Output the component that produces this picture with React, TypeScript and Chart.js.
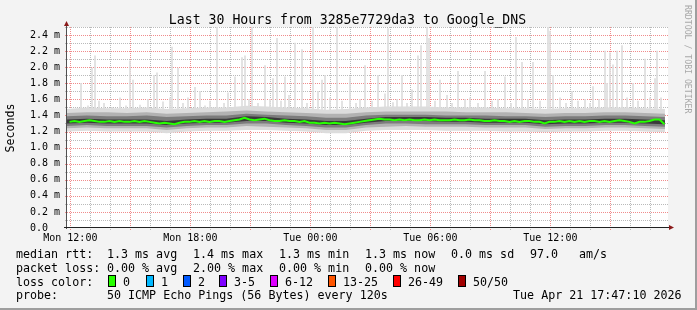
import React, { useEffect, useRef } from "react";
import { Chart, registerables } from "chart.js";

Chart.register(...registerables);

const MONO = '"DejaVu Sans Mono", monospace';

// ---- time axis: hours since Mon 12:00 (graph starts 11:50) ----
const X_MIN = -10 / 60;
const X_MAX = 29 + 50 / 60;
const DATA_END = 29.73;
const Y_MAX = 2.5;

const xTickHours = [0, 6, 12, 18, 24];
const xTickLabels = ["Mon 12:00", "Mon 18:00", "Tue 00:00", "Tue 06:00", "Tue 12:00"];
const yTickValues = [0, 0.2, 0.4, 0.6, 0.8, 1.0, 1.2, 1.4, 1.6, 1.8, 2.0, 2.2, 2.4];
const yTickLabels = ["0.0", "0.2 m", "0.4 m", "0.6 m", "0.8 m", "1.0 m", "1.2 m", "1.4 m", "1.6 m", "1.8 m", "2.0 m", "2.2 m", "2.4 m"];

// ---- median rtt (ms), one value per 15 minutes ----
const medianRtt = [
  1.32, 1.33, 1.32, 1.33, 1.34, 1.33, 1.32, 1.32, 1.33, 1.32,
  1.33, 1.32, 1.32, 1.33, 1.32, 1.33, 1.32, 1.31, 1.30, 1.31,
  1.30, 1.29, 1.31, 1.32, 1.32, 1.33, 1.32, 1.33, 1.32, 1.33,
  1.33, 1.32, 1.33, 1.34, 1.35, 1.37, 1.35, 1.34, 1.35, 1.36,
  1.34, 1.33, 1.33, 1.34, 1.33, 1.33, 1.32, 1.33, 1.31, 1.31,
  1.30, 1.31, 1.30, 1.31, 1.30, 1.29, 1.30, 1.31, 1.32, 1.33,
  1.34, 1.35, 1.36, 1.35, 1.35, 1.34, 1.35, 1.34, 1.35, 1.34,
  1.34, 1.35, 1.34, 1.35, 1.34, 1.34, 1.34, 1.35, 1.34, 1.34,
  1.35, 1.34, 1.34, 1.33, 1.33, 1.34, 1.33, 1.33, 1.32, 1.33,
  1.32, 1.33, 1.33, 1.32, 1.32, 1.30, 1.32, 1.32, 1.33, 1.32,
  1.33, 1.32, 1.33, 1.32, 1.33, 1.33, 1.32, 1.33, 1.32, 1.33,
  1.34, 1.33, 1.32, 1.30, 1.32, 1.32, 1.33, 1.35, 1.35, 1.29,
];

// ---- smoke bands (ms), 31 points across the data span ----
const smokeOuterLow = [1.20, 1.21, 1.20, 1.20, 1.20, 1.18, 1.20, 1.21, 1.21, 1.22, 1.22, 1.21, 1.20, 1.18, 1.18, 1.21, 1.22, 1.22, 1.22, 1.21, 1.21, 1.21, 1.20, 1.20, 1.19, 1.20, 1.20, 1.21, 1.21, 1.20, 1.19];
const smokeOuterHigh = [1.48, 1.50, 1.49, 1.49, 1.50, 1.48, 1.49, 1.50, 1.50, 1.52, 1.51, 1.50, 1.49, 1.47, 1.48, 1.50, 1.51, 1.51, 1.51, 1.50, 1.50, 1.50, 1.49, 1.49, 1.48, 1.49, 1.49, 1.50, 1.50, 1.49, 1.48];
const smokeMidLow = [1.24, 1.25, 1.24, 1.24, 1.24, 1.22, 1.24, 1.25, 1.25, 1.27, 1.26, 1.25, 1.24, 1.22, 1.22, 1.25, 1.26, 1.27, 1.26, 1.26, 1.26, 1.25, 1.25, 1.25, 1.23, 1.24, 1.24, 1.25, 1.25, 1.24, 1.23];
const smokeMidHigh = [1.43, 1.44, 1.44, 1.43, 1.44, 1.42, 1.43, 1.44, 1.45, 1.46, 1.45, 1.44, 1.43, 1.42, 1.42, 1.44, 1.45, 1.45, 1.45, 1.45, 1.44, 1.44, 1.44, 1.43, 1.42, 1.43, 1.43, 1.44, 1.44, 1.43, 1.42];
const smokeInnerLow = [1.27, 1.28, 1.27, 1.27, 1.27, 1.25, 1.27, 1.28, 1.28, 1.30, 1.30, 1.28, 1.27, 1.25, 1.25, 1.28, 1.30, 1.30, 1.29, 1.29, 1.29, 1.28, 1.28, 1.28, 1.26, 1.27, 1.27, 1.28, 1.28, 1.27, 1.26];
const smokeInnerHigh = [1.39, 1.40, 1.39, 1.39, 1.40, 1.38, 1.39, 1.40, 1.40, 1.42, 1.41, 1.40, 1.39, 1.37, 1.37, 1.40, 1.41, 1.41, 1.41, 1.40, 1.40, 1.40, 1.39, 1.39, 1.38, 1.39, 1.39, 1.40, 1.40, 1.39, 1.38];
const smokeCoreLow = [1.30, 1.31, 1.30, 1.30, 1.30, 1.28, 1.30, 1.31, 1.31, 1.33, 1.33, 1.31, 1.30, 1.28, 1.28, 1.31, 1.33, 1.33, 1.33, 1.32, 1.32, 1.31, 1.31, 1.31, 1.29, 1.30, 1.30, 1.31, 1.31, 1.30, 1.29];
const smokeCoreHigh = [1.35, 1.36, 1.35, 1.35, 1.35, 1.33, 1.35, 1.36, 1.36, 1.39, 1.38, 1.36, 1.35, 1.33, 1.33, 1.36, 1.38, 1.38, 1.38, 1.37, 1.37, 1.36, 1.36, 1.36, 1.34, 1.35, 1.35, 1.36, 1.36, 1.35, 1.34];

// ---- max-ping spikes: minutes after 11:50, and max rtt (ms) ----
const spikeMinutes = [
  42, 63, 75, 84, 96, 111, 135, 159, 177, 189, 198, 219, 243, 261, 270, 288, 309, 315, 333, 348,
  363, 384, 399, 414, 429, 450, 471, 483, 504, 525, 534, 546, 555, 573, 594, 609, 618, 630, 642, 654,
  666, 684, 705, 720, 738, 753, 765, 774, 789, 810, 825, 849, 867, 879, 894, 915, 933, 954, 963, 978,
  990, 1005, 1020, 1035, 1053, 1062, 1080, 1086, 1104, 1119, 1140, 1155, 1173, 1194, 1209, 1233, 1254, 1275, 1293, 1314,
  1332, 1347, 1365, 1383, 1398, 1419, 1443, 1449, 1458, 1479, 1497, 1515, 1533, 1554, 1569, 1578, 1596, 1614, 1620, 1629,
  1638, 1650, 1665, 1680, 1698, 1713, 1734, 1749, 1764, 1770, 1782,
];
const spikeMax = [
  1.80, 1.52, 1.99, 2.14, 1.58, 1.55, 1.50, 1.62, 1.52, 2.08, 1.84, 1.53, 1.60, 1.90, 1.93, 1.57, 1.62, 2.25, 1.99, 1.55,
  1.62, 1.75, 1.70, 1.52, 1.58, 2.50, 1.55, 1.68, 1.88, 2.12, 2.14, 1.60, 2.50, 1.55, 2.02, 1.60, 1.86, 2.36, 1.58, 1.88,
  1.65, 2.30, 2.22, 1.55, 2.50, 1.70, 1.84, 1.90, 1.62, 2.50, 1.58, 1.88, 1.55, 1.60, 2.02, 1.58, 1.90, 1.67, 2.48, 1.56,
  1.60, 1.90, 1.55, 1.72, 2.14, 2.27, 2.50, 2.36, 1.58, 1.84, 1.65, 1.55, 1.95, 1.60, 1.62, 1.55, 1.95, 1.58, 1.60, 1.88,
  1.55, 2.37, 2.06, 1.60, 2.06, 1.58, 2.50, 2.45, 1.90, 1.62, 1.55, 1.70, 1.58, 1.60, 1.55, 1.76, 1.60, 2.20, 1.80, 2.18,
  2.03, 2.20, 2.27, 1.62, 1.80, 1.58, 2.10, 1.62, 1.86, 2.20, 1.62,
];
const SPIKE_BASE = 1.4;

// ---- legend ----
const TITLE = "Last 30 Hours from 3285e7729da3 to Google_DNS";
const rttStats = ["1.3 ms avg", "1.4 ms max", "1.3 ms min", "1.3 ms now", "0.0 ms sd", "97.0", "am/s"];
const lossStats = ["0.00 % avg", "2.00 % max", "0.00 % min", "0.00 % now"];
const lossLabels = ["0", "1", "2", "3-5", "6-12", "13-25", "26-49", "50/50"];
const lossColors = ["#26ff00", "#00b8ff", "#0059ff", "#7e00ff", "#dd00ff", "#ff5500", "#ff0000", "#a10000"];
const probeText = "50 ICMP Echo Pings (56 Bytes) every 120s";
const dateText = "Tue Apr 21 17:47:10 2026";

const statX = [107, 193, 279, 365, 451, 530, 579];
const boxX = [108, 146, 183, 219, 270, 328, 393, 458];

function smokeSeries(arr: number[]) {
  const step = (DATA_END - X_MIN) / (arr.length - 1);
  return arr.map((y, k) => ({ x: X_MIN + k * step, y }));
}

function dottedH(ctx: CanvasRenderingContext2D, x0: number, x1: number, y: number) {
  for (let x = x0; x <= x1; x += 2) ctx.fillRect(x, y, 1, 1);
}
function dottedV(ctx: CanvasRenderingContext2D, x: number, y0: number, y1: number) {
  for (let y = y0; y <= y1; y += 2) ctx.fillRect(x, y, 1, 1);
}

const rrdPlugin = {
  id: "rrdDecor",
  beforeDraw(chart: any) {
    const { ctx, chartArea: a, width, height } = chart;
    const xs = chart.scales.x;
    const ys = chart.scales.y;
    ctx.save();
    ctx.fillStyle = "#f3f3f3";
    ctx.fillRect(0, 0, width, height);
    ctx.fillStyle = "#9e9e9e";
    ctx.fillRect(width - 2, 0, 2, height);
    ctx.fillRect(0, height - 2, width, 2);
    ctx.fillStyle = "#ffffff";
    ctx.fillRect(a.left, a.top, a.right - a.left + 1, a.bottom - a.top);
    // grid (under the data, as rrdtool does)
    const L = Math.round(a.left);
    const R = Math.round(a.right);
    const T = Math.round(a.top);
    const B = Math.round(a.bottom);
    for (let i = 1; i <= 25; i++) {
      const py = Math.round(ys.getPixelForValue(i / 10));
      ctx.fillStyle = i % 2 === 0 ? "#f08c8c" : "#bababa";
      dottedH(ctx, L - 2, R, py);
    }
    for (let h = 0; h <= 29; h++) {
      const px = Math.round(xs.getPixelForValue(h));
      ctx.fillStyle = h % 3 === 0 ? "#f08c8c" : "#bababa";
      dottedV(ctx, px, T, B + 2);
    }
    ctx.restore();
  },
  afterDatasetsDraw(chart: any) {
    const { ctx, chartArea: a } = chart;
    ctx.save();
    // axes
    ctx.fillStyle = "#505050";
    ctx.fillRect(a.left - 1, a.top - 1, 1, a.bottom - a.top + 2);
    ctx.fillStyle = "#202020";
    ctx.fillRect(a.left - 3, a.bottom - 1, a.right - a.left + 5, 1);
    // arrows
    ctx.fillStyle = "#8b1a1a";
    ctx.beginPath();
    ctx.moveTo(a.left - 0.5, a.top - 6);
    ctx.lineTo(a.left - 3, a.top - 1);
    ctx.lineTo(a.left + 2, a.top - 1);
    ctx.closePath();
    ctx.fill();
    ctx.beginPath();
    ctx.moveTo(a.right + 7, a.bottom - 0.5);
    ctx.lineTo(a.right + 2, a.bottom - 3);
    ctx.lineTo(a.right + 2, a.bottom + 2);
    ctx.closePath();
    ctx.fill();
    ctx.restore();
  },
  afterDraw(chart: any) {
    const { ctx } = chart;
    ctx.save();
    ctx.fillStyle = "#000";
    ctx.textBaseline = "alphabetic";
    // title
    ctx.font = `13.2px ${MONO}`;
    ctx.textAlign = "center";
    ctx.fillText(TITLE, 347.5, 24);
    // y label
    ctx.save();
    ctx.font = `11.6px ${MONO}`;
    ctx.translate(11, 128);
    ctx.rotate(-Math.PI / 2);
    ctx.textAlign = "center";
    ctx.textBaseline = "middle";
    ctx.fillText("Seconds", 0, 0);
    ctx.restore();
    // watermark
    ctx.save();
    ctx.font = `8.2px ${MONO}`;
    ctx.fillStyle = "#a8a8a8";
    ctx.translate(685, 5);
    ctx.rotate(Math.PI / 2);
    ctx.textAlign = "left";
    ctx.textBaseline = "alphabetic";
    ctx.fillText("RRDTOOL / TOBI OETIKER", 0, 0);
    ctx.restore();
    // legend
    ctx.font = `11.66px ${MONO}`;
    ctx.textAlign = "left";
    const rows = [258.3, 271.9, 285.5, 299.1];
    ctx.fillText("median rtt:", 16, rows[0]);
    rttStats.forEach((s, i) => ctx.fillText(s, statX[i], rows[0]));
    ctx.fillText("packet loss:", 16, rows[1]);
    lossStats.forEach((s, i) => ctx.fillText(s, statX[i], rows[1]));
    ctx.fillText("loss color:", 16, rows[2]);
    lossLabels.forEach((s, i) => {
      const bx = boxX[i];
      ctx.fillStyle = lossColors[i];
      ctx.fillRect(bx + 1, 276, 6, 10);
      ctx.strokeStyle = "#000";
      ctx.lineWidth = 1;
      ctx.strokeRect(bx + 0.5, 275.5, 7, 11);
      ctx.fillStyle = "#000";
      ctx.fillText(s, bx + 15, rows[2]);
    });
    ctx.fillText("probe:", 16, rows[3]);
    ctx.fillText(probeText, 107, rows[3]);
    ctx.textAlign = "right";
    ctx.fillText(dateText, 681.5, rows[3]);
    ctx.restore();
  },
};

export default function App() {
  const ref = useRef<HTMLCanvasElement | null>(null);

  useEffect(() => {
    document.body.style.margin = "0";
    const canvas = ref.current;
    if (!canvas) return;

    const lineBase = {
      type: "line" as const,
      borderColor: "rgba(0,0,0,0)",
      borderWidth: 1,
      pointRadius: 0,
      tension: 0,
    };

    const chart = new Chart(canvas, {
      type: "bar",
      data: {
        datasets: [
          {
            type: "bar",
            data: spikeMinutes.map((m, i) => ({ x: X_MIN + m / 60, y: [SPIKE_BASE, spikeMax[i]] })) as any,
            backgroundColor: "#dedede",
            barThickness: 1,
            order: 10,
          },
          { ...lineBase, data: smokeSeries(smokeOuterHigh), fill: "+1", backgroundColor: "#dcdcdc", order: 9 },
          { ...lineBase, data: smokeSeries(smokeOuterLow), fill: false, order: 9 },
          { ...lineBase, data: smokeSeries(smokeMidHigh), fill: "+1", backgroundColor: "#b2b2b2", order: 8 },
          { ...lineBase, data: smokeSeries(smokeMidLow), fill: false, order: 8 },
          { ...lineBase, data: smokeSeries(smokeInnerHigh), fill: "+1", backgroundColor: "#7c7c7c", order: 7 },
          { ...lineBase, data: smokeSeries(smokeInnerLow), fill: false, order: 7 },
          { ...lineBase, data: smokeSeries(smokeCoreHigh), fill: "+1", backgroundColor: "#3a3a3a", order: 6 },
          { ...lineBase, data: smokeSeries(smokeCoreLow), fill: false, order: 6 },
          {
            type: "line",
            data: medianRtt.map((y, i) => ({ x: X_MIN + (7.5 + 15 * i) / 60, y })),
            borderColor: "#26ff00",
            borderWidth: 2,
            pointRadius: 0,
            tension: 0,
            fill: false,
            order: 1,
          },
        ] as any,
      },
      options: {
        responsive: false,
        animation: false,
        devicePixelRatio: 1,
        events: [],
        layout: { padding: { left: 30, right: 30, top: 27, bottom: 68 } },
        plugins: {
          legend: { display: false },
          tooltip: { enabled: false },
          title: { display: false },
        },
        scales: {
          x: {
            type: "linear",
            min: X_MIN,
            max: X_MAX,
            offset: false,
            grid: { display: false, drawTicks: false },
            border: { display: false },
            afterBuildTicks: (s: any) => {
              s.ticks = xTickHours.map((v) => ({ value: v }));
            },
            afterFit: (s: any) => {
              s.height = 14;
            },
            ticks: {
              autoSkip: false,
              maxRotation: 0,
              minRotation: 0,
              padding: 4,
              color: "#000",
              font: { family: MONO, size: 10 },
              callback: (v: any) => {
                const i = xTickHours.indexOf(Number(v));
                return i >= 0 ? xTickLabels[i] : "";
              },
            },
          },
          y: {
            type: "linear",
            min: 0,
            max: Y_MAX,
            grid: { display: false, drawTicks: false },
            border: { display: false },
            afterBuildTicks: (s: any) => {
              s.ticks = yTickValues.map((v) => ({ value: v }));
            },
            afterFit: (s: any) => {
              s.width = 37;
            },
            ticks: {
              crossAlign: "far",
              padding: 7,
              color: "#000",
              font: { family: MONO, size: 10 },
              callback: (_v: any, i: number) => yTickLabels[i],
            },
          },
        },
      } as any,
      plugins: [rrdPlugin],
    });

    return () => chart.destroy();
  }, []);

  return (
    <div style={{ position: "fixed", left: 0, top: 0, width: 697, height: 310 }}>
      <canvas ref={ref} width={697} height={310} style={{ display: "block" }} />
    </div>
  );
}
